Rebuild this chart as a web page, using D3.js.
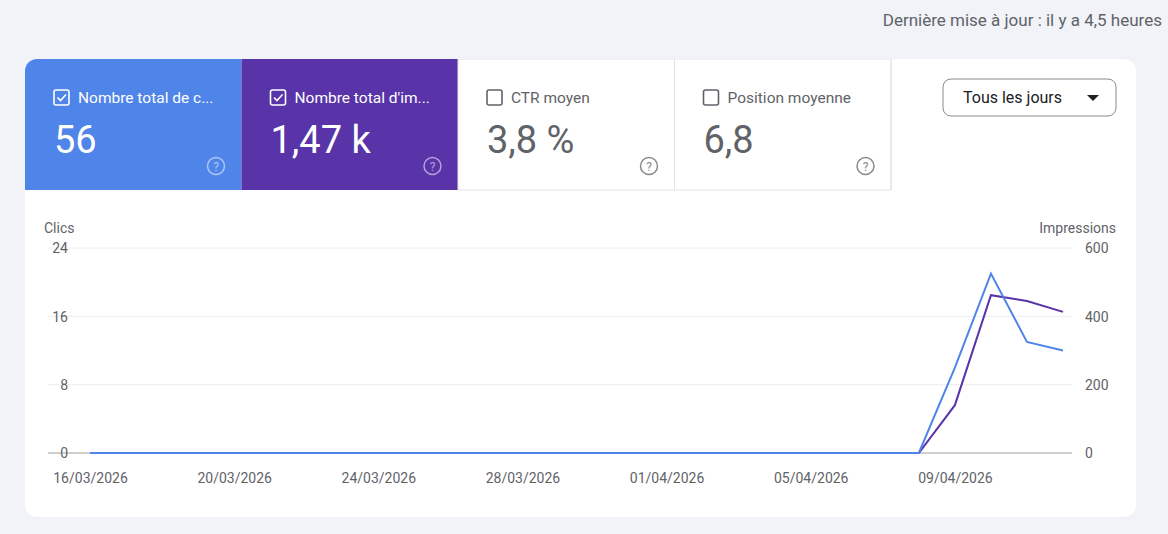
<!DOCTYPE html>
<html><head><meta charset="utf-8">
<script src="https://cdn.jsdelivr.net/npm/d3@7"></script>
<style>
body{margin:0;background:#f1f3f9;font-family:Roboto,sans-serif;}
</style></head>
<body><svg id="c" width="1168" height="534"></svg>
<script>
const dates = d3.timeDays(new Date(2026,2,16), new Date(2026,3,13));
const clics = dates.map(() => 0);
const impressions = dates.map(() => 0);
// last days from the picture
const clicsEnd = [10, 21, 13, 12];
const imprEnd = [140, 462, 445, 413];
clicsEnd.forEach((v,i) => clics[clics.length-4+i] = v);
imprEnd.forEach((v,i) => impressions[impressions.length-4+i] = v);
const leftTicks = [0, 8, 16, 24];
const rightTicks = [0, 200, 400, 600];

const cards = [
  {label:"Nombre total de c...", value:"56", bg:"#4f84e8", fg:"#fff", on:true},
  {label:"Nombre total d'im...", value:"1,47 k", bg:"#5834a8", fg:"#fff", on:true},
  {label:"CTR moyen", value:"3,8 %", bg:"#fff", fg:"#5f6368", on:false},
  {label:"Position moyenne", value:"6,8", bg:"#fff", fg:"#5f6368", on:false}
];

const svg = d3.select("#c");
svg.append("text").attr("x",1162).attr("y",26).attr("text-anchor","end")
  .attr("font-size",17).attr("fill","#5f6368").text("Dernière mise à jour : il y a 4,5 heures");

svg.append("rect").attr("x",25).attr("y",59).attr("width",1111).attr("height",458)
  .attr("rx",12).attr("fill","#fff");

svg.append("clipPath").attr("id","cl").append("rect")
  .attr("x",25).attr("y",59).attr("width",1111).attr("height",458).attr("rx",12);

const cw = 216.5;
const cg = svg.append("g").attr("clip-path","url(#cl)");
cards.forEach((c,i) => {
  const x = 25 + i*cw;
  const g = cg.append("g").attr("transform",`translate(${x},59)`);
  g.append("rect").attr("width",cw).attr("height",131).attr("fill",c.bg)
    .attr("stroke", c.on ? "none" : "#e3e3e3");
  g.append("rect").attr("x",29).attr("y",31).attr("width",15).attr("height",15).attr("rx",2)
    .attr("fill","none").attr("stroke",c.fg).attr("stroke-width",1.6);
  if (c.on) g.append("path").attr("d","M32.5 38.5 l3 3 l5.5 -6").attr("fill","none")
    .attr("stroke",c.fg).attr("stroke-width",1.6);
  g.append("text").attr("x",53).attr("y",43.5).attr("font-size",15.5).attr("fill",c.fg).text(c.label);
  g.append("text").attr("x",29).attr("y",94).attr("font-size",38).attr("fill",c.fg).text(c.value);
  const qc = c.on ? "rgba(255,255,255,0.55)" : "#8a8a8a";
  g.append("circle").attr("cx",191).attr("cy",107).attr("r",8.5).attr("fill","none")
    .attr("stroke",qc).attr("stroke-width",1.5);
  g.append("text").attr("x",191).attr("y",111.5).attr("text-anchor","middle").attr("font-size",12)
    .attr("fill",qc).text("?");
});
svg.append("line").attr("x1",891).attr("x2",891).attr("y1",59).attr("y2",190).attr("stroke","#e3e3e3");

svg.append("rect").attr("x",943).attr("y",79).attr("width",173).attr("height",37).attr("rx",8)
  .attr("fill","#fff").attr("stroke","#8a8a8a");
svg.append("text").attr("x",963).attr("y",103).attr("font-size",16).attr("fill","#202124").text("Tous les jours");
svg.append("path").attr("d","M1087 95 l6 6 l6 -6 z").attr("fill","#202124");

// chart
const x = d3.scaleTime().domain([dates[0], dates[dates.length-1]]).range([90, 1063]);
const yL = d3.scaleLinear().domain([0,24]).range([453,248]);
const yR = d3.scaleLinear().domain([0,600]).range([453,248]);

svg.append("g").selectAll("line").data(leftTicks.slice(1)).join("line")
  .attr("x1",48).attr("x2",1072).attr("y1",d=>yL(d)).attr("y2",d=>yL(d)).attr("stroke","#ececec");
svg.append("line").attr("x1",48).attr("x2",1072).attr("y1",453).attr("y2",453).attr("stroke","#9e9e9e");

const axL = svg.append("g").attr("transform","translate(68,0)")
  .call(d3.axisLeft(yL).tickValues(leftTicks).tickSize(0).tickPadding(0));
const axR = svg.append("g").attr("transform","translate(1085,0)")
  .call(d3.axisRight(yR).tickValues(rightTicks).tickSize(0).tickPadding(0));
const axX = svg.append("g").attr("transform","translate(0,453)")
  .call(d3.axisBottom(x).tickValues(dates.filter((d,i)=>i%4===0)).tickFormat(d3.timeFormat("%d/%m/%Y")).tickSize(0).tickPadding(20));
[axL,axR,axX].forEach(a => {
  a.select(".domain").remove();
  a.selectAll("text").attr("font-size",14).attr("fill","#5f6368").attr("font-family","Roboto,sans-serif");
});
axL.selectAll("text").attr("dy","0.35em");
axR.selectAll("text").attr("dy","0.35em");

svg.append("text").attr("x",44).attr("y",233).attr("font-size",14).attr("fill","#5f6368").text("Clics");
svg.append("text").attr("x",1116).attr("y",233).attr("text-anchor","end").attr("font-size",14).attr("fill","#5f6368").text("Impressions");

svg.append("path").datum(impressions).attr("fill","none").attr("stroke","#5834a8").attr("stroke-width",2)
  .attr("d", d3.line().x((d,i)=>x(dates[i])).y(d=>yR(d)));
svg.append("path").datum(clics).attr("fill","none").attr("stroke","#4f84e8").attr("stroke-width",2)
  .attr("d", d3.line().x((d,i)=>x(dates[i])).y(d=>yL(d)));
</script></body></html>
